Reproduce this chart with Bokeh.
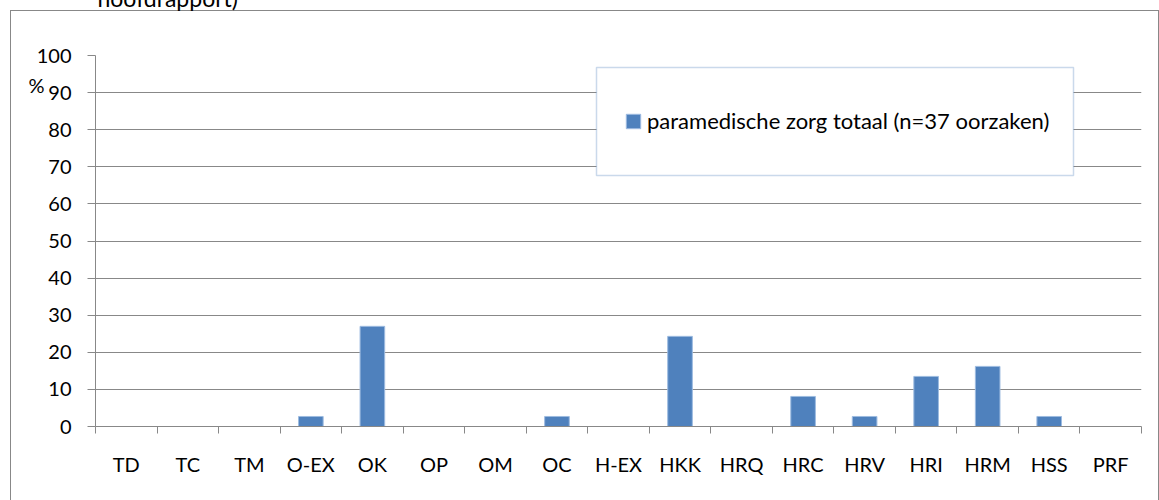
from bokeh.plotting import figure
from bokeh.models import (Range1d, LinearAxis, FixedTicker, BoxAnnotation, Legend, Title,
                          ColumnDataSource)
from bokeh.embed import file_html
from bokeh.resources import INLINE

categories = ["TD", "TC", "TM", "O-EX", "OK", "OP", "OM", "OC", "H-EX", "HKK",
              "HRQ", "HRC", "HRV", "HRI", "HRM", "HSS", "PRF"]
values = [0, 0, 0, 2.7, 27.0, 0, 0, 2.7, 0, 24.3, 0, 8.1, 2.7, 13.5, 16.2, 2.7, 0]
y_ticks = [0, 10, 20, 30, 40, 50, 60, 70, 80, 90, 100]
series_name = "paramedische zorg totaal (n=37 oorzaken)"
title_fragment = "hoofdrapport)"
y_unit = "%"

FONT = "Lato"
FS = "20px"
GRAY = "#888888"
BLUE = "#4f81bd"
SHIFT = 16  # canvas rows hidden above the window (title is cut off in the reference)

n = len(categories)
centers = [2 * i + 1 for i in range(n)]        # category slot centres
bounds = [2 * i for i in range(n + 1)]          # category slot edges

source = ColumnDataSource(dict(x=centers, top=values, cat=categories))

p = figure(width=1159, height=500 + SHIFT, x_range=Range1d(0, 2 * n),
           y_range=Range1d(0, 100), output_backend="svg", toolbar_location=None,
           x_axis_location=None, y_axis_location=None,
           min_border_left=95, min_border_right=18, min_border_top=55 + SHIFT,
           min_border_bottom=74)
p.outline_line_color = None
p.background_fill_alpha = 0
p.border_fill_alpha = 0
# outer chart border (Excel chart area frame)
p.styles = {
    "margin-top": f"-{SHIFT}px",
    "background-image": "linear-gradient(#888888,#888888), linear-gradient(#888888,#888888), "
                        "linear-gradient(#888888,#888888)",
    "background-size": "1px 700px, 1149px 1px, 1px 700px",
    "background-position": f"10px {10 + SHIFT}px, 10px {10 + SHIFT}px, 1158px {10 + SHIFT}px",
    "background-repeat": "no-repeat",
}

# horizontal gridlines
p.xgrid.visible = False
p.ygrid.ticker = FixedTicker(ticks=y_ticks)
p.ygrid.grid_line_color = GRAY
p.ygrid.grid_line_width = 1

# y axis
yax = LinearAxis(ticker=FixedTicker(ticks=y_ticks), axis_line_color=GRAY,
                 major_tick_line_color=GRAY, major_tick_out=8, major_tick_in=0,
                 minor_tick_line_color=None, major_label_standoff=16,
                 major_label_text_font=FONT, major_label_text_font_size=FS,
                 major_label_text_color="black")
p.add_layout(yax, "left")

# unit label "%" next to the 90 tick
pax = LinearAxis(ticker=FixedTicker(ticks=[92]), major_label_overrides={92: y_unit},
                 axis_line_color=None, major_tick_line_color=None, major_tick_out=0,
                 major_tick_in=0, minor_tick_line_color=None, major_label_standoff=-11,
                 major_label_text_font=FONT, major_label_text_font_size=FS,
                 major_label_text_color="black")
p.add_layout(pax, "left")

# x axis: labels at slot centres, tick marks at slot edges
xax = LinearAxis(ticker=FixedTicker(ticks=centers, minor_ticks=bounds),
                 major_label_overrides={c: lab for c, lab in zip(centers, categories)},
                 axis_line_color=GRAY, major_tick_line_color=None, major_tick_out=0,
                 major_tick_in=0, minor_tick_line_color=GRAY, minor_tick_out=7,
                 minor_tick_in=0, major_label_standoff=18,
                 major_label_text_font=FONT, major_label_text_font_size=FS,
                 major_label_text_color="black")
p.add_layout(xax, "below")

# spacer above the frame, then the (cut-off) title line at the very top
spacer = LinearAxis(ticker=FixedTicker(ticks=[1]), major_label_overrides={1: " "},
                    axis_line_color=None, major_tick_line_color=None,
                    minor_tick_line_color=None, major_tick_out=40, major_tick_in=0,
                    major_label_standoff=0, major_label_text_font_size="1px")
p.add_layout(spacer, "above")
p.add_layout(Title(text=title_fragment, align="left", offset=2, standoff=-5,
                   vertical_align="top", text_font=FONT, text_font_size="23px",
                   text_font_style="normal", text_color="black"), "above")

bars = p.vbar(x="x", top="top", width=0.8, source=source, fill_color=BLUE,
              line_color="#9dbbe0", line_width=1)

# legend box
lbox = BoxAnnotation(left=596, right=1073, top=67 + SHIFT, bottom=175 + SHIFT,
                     left_units="canvas", right_units="canvas",
                     top_units="canvas", bottom_units="canvas",
                     fill_color="white", fill_alpha=1, line_color=BLUE, line_width=1.5)
p.add_layout(lbox)

legend = Legend(items=[(series_name, [bars])], location=(529, 292),
                border_line_color=None, background_fill_alpha=0, padding=0, margin=0,
                glyph_width=18, glyph_height=18, label_standoff=5, spacing=0,
                label_text_font=FONT, label_text_font_size="22px", label_text_color="black")
p.add_layout(legend)

open("out.html", "w").write(file_html(p, INLINE))
